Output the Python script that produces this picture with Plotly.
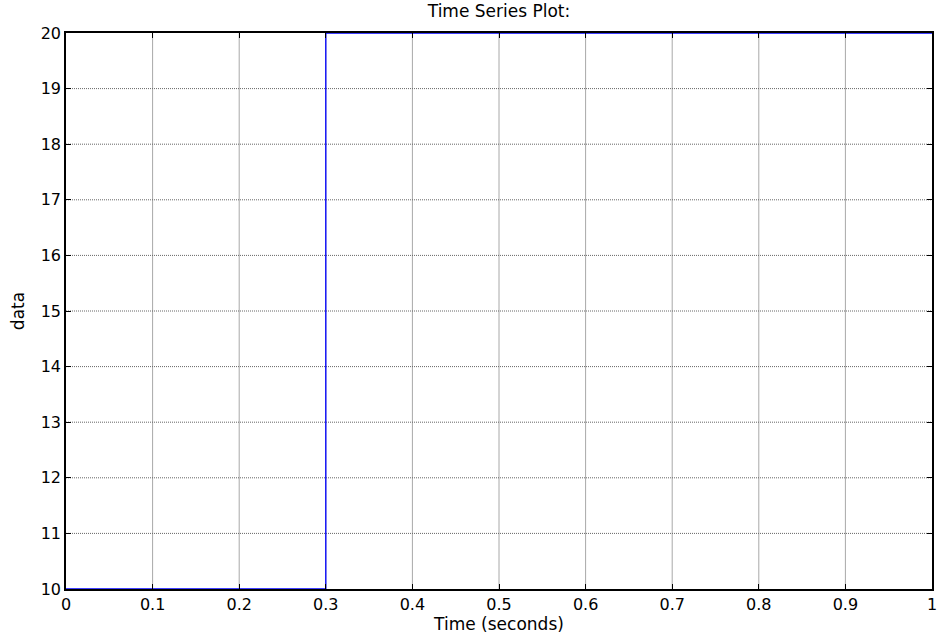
import plotly.graph_objects as go

# Step signal: 10 until t=0.3 s, then 20
time_s = [0.0, 0.3, 0.3, 1.0]
data_vals = [10, 10, 20, 20]
x_ticks = [0, 0.1, 0.2, 0.3, 0.4, 0.5, 0.6, 0.7, 0.8, 0.9, 1]
x_tick_labels = ["0", "0.1", "0.2", "0.3", "0.4", "0.5", "0.6", "0.7", "0.8", "0.9", "1"]
y_ticks = [10, 11, 12, 13, 14, 15, 16, 17, 18, 19, 20]

family = "DejaVu Sans, Arial, sans-serif"
tick_font = dict(family=family, size=16, color="black")
label_font = dict(family=family, size=17, color="black")

fig = go.Figure()

# vertical grid lines (solid gray)
for xv in x_ticks[1:-1]:
    fig.add_shape(type="line", xref="x", yref="paper", x0=xv, x1=xv, y0=0, y1=1,
                  line=dict(color="#a8a8a8", width=1), layer="below")
# horizontal grid lines (fine dotted)
for yv in y_ticks[1:-1]:
    fig.add_shape(type="line", xref="paper", yref="y", x0=0, x1=1, y0=yv, y1=yv,
                  line=dict(color="#666666", width=1, dash="1px,1px"), layer="below")

fig.add_trace(go.Scatter(x=time_s, y=data_vals, mode="lines",
                         line=dict(color="#0000ff", width=1.3), showlegend=False,
                         cliponaxis=False))

fig.update_layout(
    width=944, height=635,
    margin=dict(l=66, r=7, t=33, b=46),
    paper_bgcolor="white", plot_bgcolor="white",
    font=label_font,
    title=dict(text="Time Series Plot:", x=0.5, xanchor="center", y=1 - 11 / 635,
               yanchor="middle", xref="paper", font=label_font),
)
fig.update_xaxes(range=[0, 1], tickvals=x_ticks, ticktext=x_tick_labels,
                 showgrid=False, zeroline=False, showline=True, linecolor="black",
                 linewidth=1.5, mirror="ticks", ticks="inside", ticklen=5,
                 tickcolor="black", title=dict(text="Time (seconds)", standoff=0,
                                               font=label_font),
                 tickfont=tick_font)
fig.update_yaxes(range=[10, 20], tickvals=y_ticks,
                 showgrid=False, zeroline=False, showline=True, linecolor="black",
                 linewidth=1.5, mirror="ticks", ticks="inside", ticklen=5,
                 tickcolor="black", title=dict(text="data", standoff=12,
                                               font=label_font),
                 tickfont=tick_font)

fig.write_html("out.html")
